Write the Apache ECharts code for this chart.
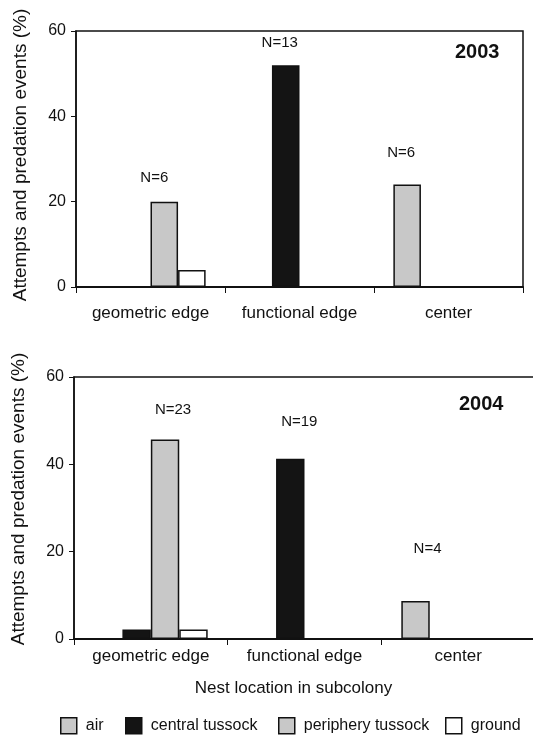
<!DOCTYPE html>
<html>
<head>
<meta charset="utf-8">
<script src="https://cdn.jsdelivr.net/npm/echarts@6/dist/echarts.min.js"></script>
<style>
html,body{margin:0;padding:0;background:#fff;}
#chart{width:533px;height:738px;}
</style>
</head>
<body>
<div id="chart"></div>
<script>
const categories = ['geometric edge', 'functional edge', 'center'];
const seriesNames = ['air', 'central tussock', 'periphery tussock', 'ground'];
const yTicks = [0, 20, 40, 60];
// 2003 (%)
const air2003 = [0, 0, 24];
const central2003 = [0, 52, 0];
const periphery2003 = [20, 0, 0];
const ground2003 = [4, 0, 0];
const nLabels2003 = ['N=6', 'N=13', 'N=6'];
// 2004 (%)
const air2004 = [0, 0, 8.7];
const central2004 = [2.2, 41.3, 0];
const periphery2004 = [45.7, 0, 0];
const ground2004 = [2.2, 0, 0];
const nLabels2004 = ['N=23', 'N=19', 'N=4'];
const years = ['2003', '2004'];

const FONT = '"Liberation Sans", Arial, sans-serif';
const GRAY = '#c8c8c8', BLACK = '#141414', WHITE = '#ffffff', EDGE = '#111111';
const colors = [GRAY, BLACK, GRAY, WHITE];

// which series carries the N label in each category, and label offsets
const labelHost = [2, 1, 0]; // geometric->periphery, functional->central, center->air
const offsets2003 = [[-10, -16], [-6, -15], [-6, -24]];
const offsets2004 = [[8, -22], [9, -29], [12, -45]];

function makeData(values, sIdx, nLabels, offsets) {
  return values.map((v, i) => {
    if (!v) return '-';
    if (labelHost[i] === sIdx) {
      return {
        value: v,
        label: {
          show: true, position: 'top', distance: 0,
          formatter: nLabels[i], offset: offsets[i],
          fontFamily: FONT, fontSize: 15, color: '#111'
        }
      };
    }
    return v;
  });
}

const sets = [
  [air2003, central2003, periphery2003, ground2003],
  [air2004, central2004, periphery2004, ground2004]
];
const nSets = [nLabels2003, nLabels2004];
const offSets = [offsets2003, offsets2004];

const series = [];
sets.forEach((vals, g) => {
  vals.forEach((v, s) => {
    series.push({
      name: seriesNames[s],
      type: 'bar',
      xAxisIndex: g, yAxisIndex: g,
      barWidth: '18.5%', barGap: '0%',
      itemStyle: { color: colors[s], borderColor: EDGE, borderWidth: 1.5 },
      emphasis: { disabled: true },
      data: makeData(v, s, nSets[g], offSets[g])
    });
  });
});

const grids = [
  { left: 76, top: 31, width: 447, height: 256 },
  { left: 74, top: 377, width: 461, height: 262 }
];
const labelMargins = [18, 9];
const namePads = [[0, 0, 0, 8], [0, 0, 0, 18]];

const xAxes = grids.map((gr, g) => ({
  type: 'category', gridIndex: g, data: categories,
  axisLine: { lineStyle: { color: EDGE, width: 2 } },
  axisTick: { show: true, length: 6, lineStyle: { color: EDGE, width: 1 } },
  axisLabel: { interval: 0, fontFamily: FONT, fontSize: 17, color: '#111', margin: labelMargins[g] },
  name: g === 1 ? 'Nest location in subcolony' : '',
  nameLocation: 'middle', nameGap: 41,
  nameTextStyle: { fontFamily: FONT, fontSize: 17, color: '#111', padding: [0, 22, 0, 0] }
}));
const yAxes = grids.map((gr, g) => ({
  type: 'value', gridIndex: g, min: yTicks[0], max: yTicks[yTicks.length - 1], interval: yTicks[1] - yTicks[0],
  splitLine: { show: false },
  axisLine: { show: true, lineStyle: { color: EDGE, width: 1.5 } },
  axisTick: { show: true, length: 5, lineStyle: { color: EDGE, width: 1 } },
  axisLabel: { fontFamily: FONT, fontSize: 16, color: '#111', margin: 10 },
  name: 'Attempts and predation events (%)',
  nameLocation: 'middle', nameGap: 46,
  nameTextStyle: { fontFamily: FONT, fontSize: 19, color: '#111', padding: namePads[g] }
}));

const legendLefts = [60, 125, 278, 445];
const legends = seriesNames.map((n, i) => ({
  data: [n], left: legendLefts[i], top: 717, padding: 0, icon: 'rect',
  itemWidth: 16, itemHeight: 16, selectedMode: false,
  itemStyle: { borderColor: EDGE, borderWidth: 1.5 },
  textStyle: { fontFamily: FONT, fontSize: 16, color: '#111', padding: [0, 0, 0, 4] }
}));

const chart = echarts.init(document.getElementById('chart'), null, { renderer: 'canvas' });
chart.setOption({
  animation: false,
  backgroundColor: '#fff',
  grid: grids.map(gr => Object.assign({
    show: true, borderColor: EDGE, borderWidth: 1.5, backgroundColor: 'transparent',
    containLabel: false, outerBoundsMode: 'none'
  }, gr)),
  xAxis: xAxes,
  yAxis: yAxes,
  legend: legends,
  graphic: [
    { type: 'text', left: 455, top: 42, style: { text: years[0], fontFamily: FONT, fontSize: 20, fontWeight: 'bold', fill: '#111' } },
    { type: 'text', left: 459, top: 394, style: { text: years[1], fontFamily: FONT, fontSize: 20, fontWeight: 'bold', fill: '#111' } }
  ],
  series: series
});
</script>
</body>
</html>
